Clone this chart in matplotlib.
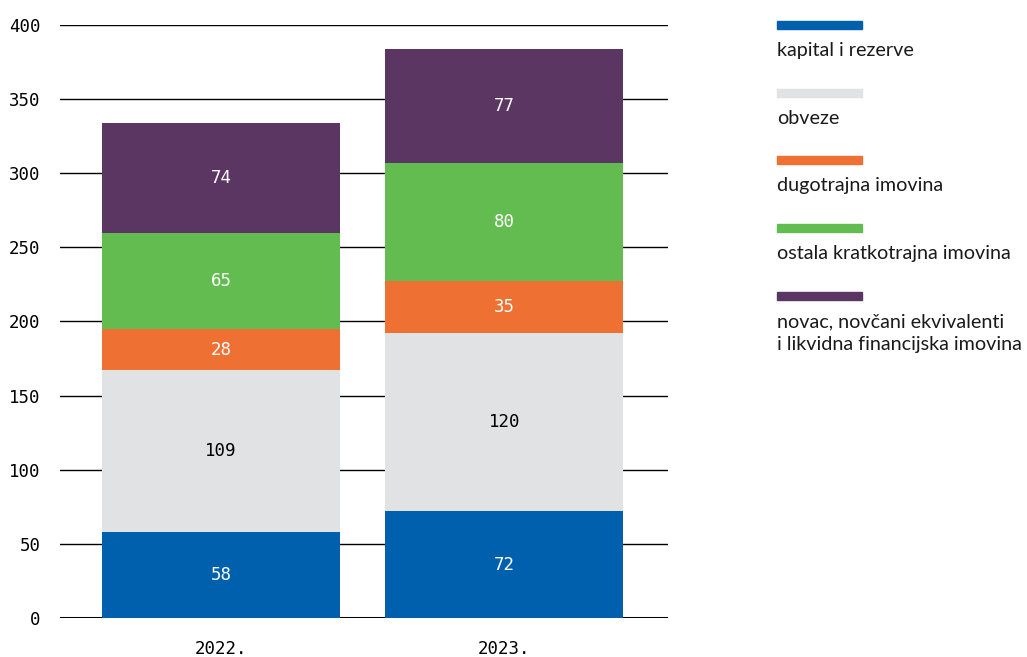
import matplotlib.pyplot as plt
from matplotlib.patches import Rectangle

years = ["2022.", "2023."]
series = ["kapital i rezerve",
          "obveze",
          "dugotrajna imovina",
          "ostala kratkotrajna imovina",
          "novac, novčani ekvivalenti\ni likvidna financijska imovina"]
kapital = [58, 72]
obveze = [109, 120]
dugotrajna = [28, 35]
kratkotrajna = [65, 80]
novac = [74, 77]

values = [kapital, obveze, dugotrajna, kratkotrajna, novac]
colors = ["#0060ae", "#e1e2e4", "#ee7133", "#63bc4f", "#5b3663"]
text_colors = ["white", "black", "white", "white", "white"]

mono = "DejaVu Sans Mono"

fig = plt.figure(figsize=(10.27, 6.57), dpi=100)
ax = fig.add_axes([0.0584, 0.0594, 0.592, 0.9026])

x = [0, 1]
bottom = [0, 0]
for vals, col, tcol in zip(values, colors, text_colors):
    ax.bar(x, vals, width=0.84, bottom=bottom, color=col, zorder=2)
    for xi, b, v in zip(x, bottom, vals):
        ax.text(xi, b + v / 2, str(v), ha="center", va="center",
                color=tcol, fontsize=12.5, family=mono, zorder=3)
    bottom = [b + v for b, v in zip(bottom, vals)]

ax.set_xlim(-0.568, 1.577)
ax.set_ylim(0, 400)
ax.set_yticks(range(0, 401, 50))
ax.yaxis.grid(True, color="black", linewidth=1, zorder=0)
ax.axhline(0, color="black", linewidth=2.2, zorder=1)
ax.set_axisbelow(True)
for s in ax.spines.values():
    s.set_visible(False)
ax.tick_params(axis="y", length=0, labelsize=12.5, pad=14)
ax.tick_params(axis="x", length=0, labelsize=12.5, pad=16)
ax.set_xticks(x)
ax.set_xticklabels(years)
for lab in ax.get_xticklabels() + ax.get_yticklabels():
    lab.set_family(mono)

# legend on the right
W, H = 1027, 657
rect_y = [25, 93, 160, 228, 296]
for name, col, ry in zip(series, colors, rect_y):
    fig.add_artist(Rectangle((777 / W, 1 - (ry + 4) / H), 85 / W, 8 / H,
                             transform=fig.transFigure, color=col))
    fig.text(777 / W, 1 - (ry + 17) / H, name, ha="left", va="top",
             fontsize=14.2, family="Lato", color="#1a1a1a", linespacing=1.4)

fig.savefig("out.png", dpi=100)
